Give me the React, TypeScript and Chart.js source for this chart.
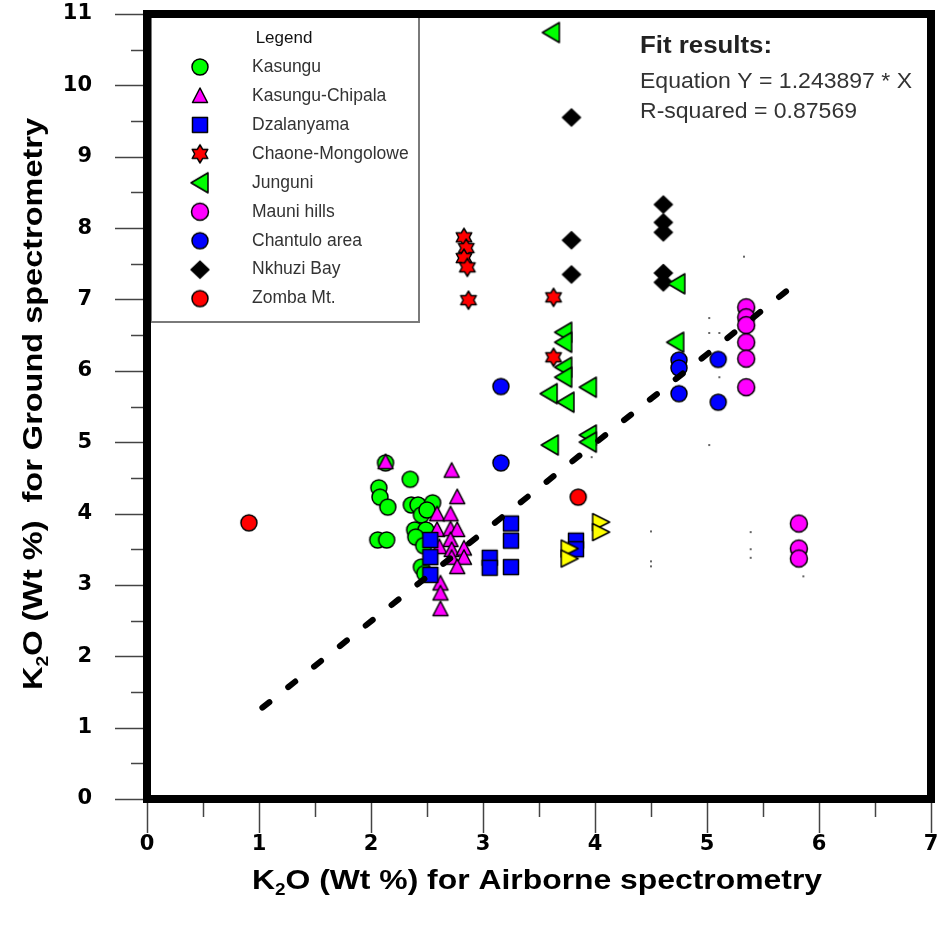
import React, { useEffect, useRef } from 'react';
import { Chart, registerables } from 'chart.js';
Chart.register(...registerables);

// ---------------- data ----------------
const seriesNames = ['Kasungu', 'Kasungu-Chipala', 'Dzalanyama', 'Chaone-Mongolowe', 'Junguni', 'Mauni hills', 'Chantulo area', 'Nkhuzi Bay', 'Zomba Mt.'];

const kasunguX = [2.13, 2.35, 2.07, 2.08, 2.15, 2.36, 2.42, 2.55, 2.45, 2.39, 2.49, 2.40, 2.06, 2.14, 2.45, 2.48, 2.50, 2.47];
const kasunguY = [4.71, 4.48, 4.36, 4.23, 4.09, 4.12, 4.12, 4.15, 3.98, 3.77, 3.77, 3.67, 3.63, 3.63, 3.25, 3.16, 4.05, 3.55];

const chipalaX = [2.13, 2.72, 2.77, 2.59, 2.71, 2.59, 2.71, 2.77, 2.71, 2.61, 2.72, 2.83, 2.72, 2.83, 2.77, 2.62, 2.62, 2.62];
const chipalaY = [4.72, 4.60, 4.23, 3.99, 3.99, 3.77, 3.78, 3.77, 3.63, 3.53, 3.49, 3.51, 3.38, 3.38, 3.25, 3.02, 2.88, 2.66];

const dzalanyamaX = [2.53, 2.53, 2.53, 3.06, 3.06, 3.25, 3.25, 3.25, 3.83, 3.83];
const dzalanyamaY = [3.63, 3.39, 3.14, 3.38, 3.24, 3.86, 3.62, 3.25, 3.62, 3.50];

const chaoneX = [2.83, 2.85, 2.83, 2.86, 2.87, 3.63, 3.63];
const chaoneY = [7.87, 7.72, 7.58, 7.45, 6.99, 7.03, 6.19];

const junguniX = [3.61, 3.72, 3.72, 3.72, 3.72, 3.59, 3.74, 3.94, 3.60, 3.94, 3.94, 4.73, 4.72];
const junguniY = [10.74, 6.54, 6.40, 6.05, 5.91, 5.68, 5.56, 5.77, 4.96, 5.10, 5.00, 7.22, 6.40];

const mauniX = [5.35, 5.35, 5.35, 5.35, 5.35, 5.35, 5.82, 5.82, 5.82];
const mauniY = [6.89, 6.75, 6.64, 6.40, 6.17, 5.77, 3.86, 3.51, 3.37];

const chantuloX = [3.16, 3.16, 4.75, 4.75, 4.75, 5.10, 5.10];
const chantuloY = [5.78, 4.71, 6.15, 6.04, 5.68, 6.16, 5.56];

const nkhuziX = [3.79, 3.79, 3.79, 4.61, 4.61, 4.61, 4.61, 4.61];
const nkhuziY = [9.55, 7.83, 7.35, 8.33, 8.08, 7.94, 7.37, 7.24];

const zombaX = [0.91, 3.85];
const zombaY = [3.87, 4.23];

const yellowX = [4.05, 4.05, 3.77, 3.77];
const yellowY = [3.88, 3.74, 3.51, 3.37];

const dotsX = [5.33, 5.02, 5.02, 5.11, 5.11, 5.02, 5.39, 5.39, 5.39, 5.86, 4.50, 4.50, 4.50, 3.97];
const dotsY = [7.60, 6.74, 6.53, 6.53, 5.91, 4.96, 3.74, 3.50, 3.38, 3.12, 3.75, 3.33, 3.26, 4.79];

const fitX = [1.03, 5.80];
const fitY = [1.28, 7.23];

const xTicks = [0, 1, 2, 3, 4, 5, 6, 7];
const yTicks = [0, 1, 2, 3, 4, 5, 6, 7, 8, 9, 10, 11];

const fitTitle = 'Fit results:';
const fitEquation = 'Equation Y = 1.243897 * X';
const fitR2 = 'R-squared = 0.87569';
const legendTitle = 'Legend';
const xTitleParts = ['K', '2', 'O (Wt %) for Airborne spectrometry'];
const yTitleParts = ['K', '2', 'O (Wt %)  for Ground spectrometry'];

// ---------------- markers ----------------
function makeMarker(kind: string, fill: string): HTMLCanvasElement {
  const c = document.createElement('canvas');
  c.width = 26; c.height = 26;
  const g = c.getContext('2d') as CanvasRenderingContext2D;
  g.translate(13, 13);
  g.beginPath();
  if (kind === 'circle') g.arc(0, 0, 8, 0, Math.PI * 2);
  else if (kind === 'bigcircle') g.arc(0, 0, 8.5, 0, Math.PI * 2);
  else if (kind === 'triUp') { g.moveTo(0, -8); g.lineTo(7.5, 6.5); g.lineTo(-7.5, 6.5); g.closePath(); }
  else if (kind === 'square') g.rect(-7.5, -7.5, 15, 15);
  else if (kind === 'hexagram') {
    for (let k = 0; k < 12; k++) {
      const a = -Math.PI / 2 + k * Math.PI / 6;
      const r = k % 2 === 0 ? 9 : 5.3;
      const px = r * Math.cos(a), py = r * Math.sin(a);
      if (k === 0) g.moveTo(px, py); else g.lineTo(px, py);
    }
    g.closePath();
  }
  else if (kind === 'triLeft') { g.moveTo(-9, 0); g.lineTo(8, -10); g.lineTo(8, 10); g.closePath(); }
  else if (kind === 'diamond') { g.moveTo(0, -8.5); g.lineTo(9, 0); g.lineTo(0, 8.5); g.lineTo(-9, 0); g.closePath(); }
  else if (kind === 'triRight') { g.moveTo(9, 0); g.lineTo(-8, -8.5); g.lineTo(-8, 8.5); g.closePath(); }
  else if (kind === 'dot') g.arc(0, 0, 1, 0, Math.PI * 2);
  g.fillStyle = fill;
  g.fill();
  if (kind !== 'dot') {
    g.lineWidth = 1.5;
    g.strokeStyle = '#000';
    g.lineJoin = 'round';
    g.stroke();
  }
  return c;
}

function pts(xs: number[], ys: number[]) {
  return xs.map((x, i) => ({ x, y: ys[i] }));
}

function drawSubText(ctx: CanvasRenderingContext2D, parts: string[], cx: number, cy: number, rot: number, target: number, size: number) {
  const mainFont = `bold ${size}px "Liberation Sans", Arial, sans-serif`;
  const subFont = `bold ${Math.round(size * 0.58)}px "Liberation Sans", Arial, sans-serif`;
  ctx.save();
  ctx.font = mainFont;
  const w1 = ctx.measureText(parts[0]).width;
  const w3 = ctx.measureText(parts[2]).width;
  ctx.font = subFont;
  const w2 = ctx.measureText(parts[1]).width;
  const total = w1 + w2 + w3;
  const s = target / total;
  ctx.translate(cx, cy);
  ctx.rotate(rot);
  ctx.scale(s, 1);
  ctx.fillStyle = '#000';
  ctx.textBaseline = 'middle';
  ctx.textAlign = 'left';
  let x = -total / 2;
  ctx.font = mainFont;
  ctx.fillText(parts[0], x, 0);
  x += w1;
  ctx.font = subFont;
  ctx.fillText(parts[1], x, size * 0.3);
  x += w2;
  ctx.font = mainFont;
  ctx.fillText(parts[2], x, 0);
  ctx.restore();
}

function fillFitted(ctx: CanvasRenderingContext2D, text: string, x: number, y: number, font: string, target: number) {
  ctx.save();
  ctx.font = font;
  const w = ctx.measureText(text).width;
  ctx.translate(x, y);
  ctx.scale(target / w, 1);
  ctx.textAlign = 'left';
  ctx.textBaseline = 'middle';
  ctx.fillText(text, 0, 0);
  ctx.restore();
}

export default function App() {
  const ref = useRef<HTMLCanvasElement | null>(null);
  useEffect(() => {
    if (!ref.current) return;
    const mk = {
      kasungu: makeMarker('circle', '#00ff00'),
      chipala: makeMarker('triUp', '#ff00ff'),
      dzal: makeMarker('square', '#0000ff'),
      chaone: makeMarker('hexagram', '#ff0000'),
      junguni: makeMarker('triLeft', '#00ff00'),
      mauni: makeMarker('bigcircle', '#ff00ff'),
      chantulo: makeMarker('circle', '#0000ff'),
      nkhuzi: makeMarker('diamond', '#000000'),
      zomba: makeMarker('circle', '#ff0000'),
      yellow: makeMarker('triRight', '#ffff00'),
      dot: makeMarker('dot', '#333333'),
    };
    const legendMarkers = [mk.kasungu, mk.chipala, mk.dzal, mk.chaone, mk.junguni, mk.mauni, mk.chantulo, mk.nkhuzi, mk.zomba];

    const sc = (label: string, xs: number[], ys: number[], img: HTMLCanvasElement, order: number) => ({
      type: 'scatter',
      label,
      data: pts(xs, ys),
      pointStyle: img,
      pointRadius: 8,
      order,
    });

    const overlay = {
      id: 'overlay',
      afterDraw(chart: any) {
        const ctx: CanvasRenderingContext2D = chart.ctx;
        const { left, right, top, bottom } = chart.chartArea;
        const xs = chart.scales.x, ys = chart.scales.y;
        ctx.save();
        // legend box
        const bx0 = left + 4, by0 = top + 1, bx1 = 419, by1 = 322;
        ctx.fillStyle = '#fff';
        ctx.fillRect(bx0, by0, bx1 - bx0, by1 - by0);
        ctx.strokeStyle = '#7a7a7a';
        ctx.lineWidth = 2;
        ctx.strokeRect(bx0, by0, bx1 - bx0, by1 - by0);
        ctx.fillStyle = '#111';
        ctx.textBaseline = 'middle';
        ctx.textAlign = 'center';
        ctx.font = '17px "Liberation Sans", Arial, sans-serif';
        ctx.fillText(legendTitle, 284, 38);
        ctx.textAlign = 'left';
        ctx.font = '17.5px "Liberation Sans", Arial, sans-serif';
        seriesNames.forEach((name, i) => {
          const yy = 67 + i * 28.95;
          const img = legendMarkers[i];
          ctx.drawImage(img, 200 - img.width / 2, yy - img.height / 2);
          ctx.fillStyle = '#333';
          ctx.fillText(name, 252, yy);
        });
        // frame
        ctx.strokeStyle = '#000';
        ctx.lineWidth = 8;
        ctx.strokeRect(left, top, right - left, bottom - top);
        // ticks
        ctx.strokeStyle = '#444';
        ctx.lineWidth = 1.5;
        for (let k = 0; k <= 14; k++) {
          const px = Math.round(xs.getPixelForValue(k * 0.5)) + 0.5;
          const len = k % 2 === 0 ? 30 : 14;
          ctx.beginPath();
          ctx.moveTo(px, bottom + 4);
          ctx.lineTo(px, bottom + 4 + len);
          ctx.stroke();
        }
        for (let k = 0; k <= 22; k++) {
          const py = Math.round(ys.getPixelForValue(k * 0.5)) + 0.5;
          const len = k % 2 === 0 ? 28 : 12;
          ctx.beginPath();
          ctx.moveTo(left - 4, py);
          ctx.lineTo(left - 4 - len, py);
          ctx.stroke();
        }
        // axis titles
        drawSubText(ctx, xTitleParts, 537, 882, 0, 570, 27);
        drawSubText(ctx, yTitleParts, 35, 404, -Math.PI / 2, 572, 27);
        // fit results
        ctx.fillStyle = '#222';
        fillFitted(ctx, fitTitle, 640, 47, 'bold 23px "Liberation Sans", Arial, sans-serif', 132);
        ctx.fillStyle = '#333';
        fillFitted(ctx, fitEquation, 640, 82, '22px "Liberation Sans", Arial, sans-serif', 272);
        fillFitted(ctx, fitR2, 640, 112, '22px "Liberation Sans", Arial, sans-serif', 217);
        ctx.restore();
      },
    };

    const chart = new Chart(ref.current, {
      type: 'scatter',
      data: {
        datasets: [
          sc(seriesNames[0], kasunguX, kasunguY, mk.kasungu, 20),
          sc(seriesNames[1], chipalaX, chipalaY, mk.chipala, 19),
          sc(seriesNames[2], dzalanyamaX, dzalanyamaY, mk.dzal, 18),
          sc(seriesNames[7], nkhuziX, nkhuziY, mk.nkhuzi, 17),
          sc(seriesNames[4], junguniX, junguniY, mk.junguni, 16),
          sc(seriesNames[3], chaoneX, chaoneY, mk.chaone, 15),
          sc(seriesNames[5], mauniX, mauniY, mk.mauni, 14),
          sc(seriesNames[6], chantuloX, chantuloY, mk.chantulo, 13),
          sc(seriesNames[8], zombaX, zombaY, mk.zomba, 12),
          sc('unlabelled', yellowX, yellowY, mk.yellow, 11),
          sc('dots', dotsX, dotsY, mk.dot, 10),
          {
            type: 'line',
            label: 'fit',
            data: pts(fitX, fitY),
            borderColor: '#000',
            borderWidth: 6,
            borderDash: [9, 24],
            borderCapStyle: 'round',
            pointRadius: 0,
            showLine: true,
            fill: false,
            order: 1,
          },
        ] as any,
      },
      options: {
        responsive: false,
        animation: false,
        devicePixelRatio: 1,
        layout: { padding: { top: 14, right: 7, left: 0, bottom: 0 } },
        plugins: { legend: { display: false }, tooltip: { enabled: false } },
        scales: {
          x: {
            type: 'linear',
            min: 0,
            max: 7,
            afterFit: (s: any) => { s.height = 134; s.paddingLeft = 0; s.paddingRight = 0; s.paddingTop = 0; s.paddingBottom = 0; },
            afterBuildTicks: (s: any) => { s.ticks = xTicks.map((v) => ({ value: v })); },
            grid: { display: false, drawTicks: false },
            border: { display: false },
            ticks: {
              color: '#000',
              padding: 33,
              maxRotation: 0,
              font: { family: '"DejaVu Sans", sans-serif', size: 21, weight: 'bold' },
            },
          },
          y: {
            type: 'linear',
            min: 0,
            max: 11,
            afterFit: (s: any) => { s.width = 147; s.paddingLeft = 0; s.paddingRight = 0; s.paddingTop = 0; s.paddingBottom = 0; },
            afterBuildTicks: (s: any) => { s.ticks = yTicks.map((v) => ({ value: v })); },
            grid: { display: false, drawTicks: false },
            border: { display: false },
            ticks: {
              color: '#000',
              padding: 55,
              font: { family: '"DejaVu Sans", sans-serif', size: 21, weight: 'bold' },
            },
          },
        },
      } as any,
      plugins: [overlay],
    });
    return () => chart.destroy();
  }, []);

  return (
    <div style={{ position: 'fixed', left: 0, top: 0, width: 940, height: 933, background: '#fff' }}>
      <canvas ref={ref} width={940} height={933} style={{ width: 940, height: 933, display: 'block' }} />
    </div>
  );
}
